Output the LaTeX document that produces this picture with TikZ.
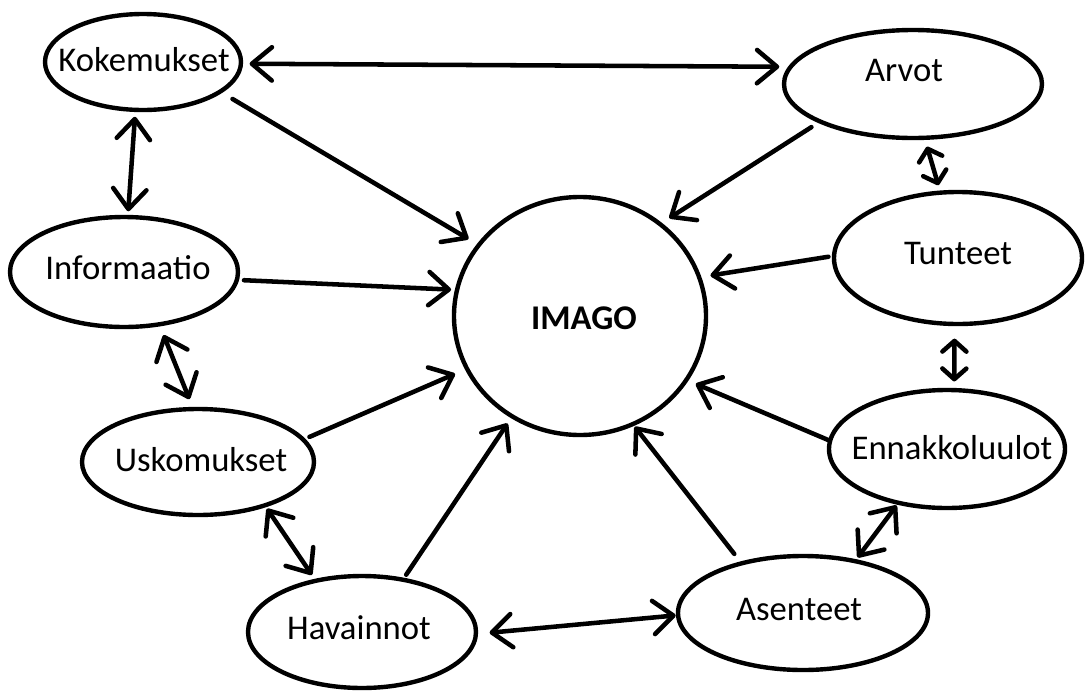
\documentclass[tikz,border=0pt]{standalone}
\usepackage{fontspec}
\setmainfont{Carlito}
\usetikzlibrary{shapes.geometric,arrows.meta,calc}
\begin{document}
\begin{tikzpicture}[x=0.75pt,y=-0.75pt,
  ell/.style={ellipse,draw=black,line width=3.3pt,inner sep=0pt,outer sep=0pt},
  txt/.style={font=\fontsize{26}{30}\selectfont,text=black,inner sep=0pt},
  tip/.tip={Straight Barb[length=15pt,width=25pt,round]},
  stip/.tip={Straight Barb[length=8pt,width=18pt,round]},
  con/.style={line width=3.4pt,line cap=round,-tip},
  bicon/.style={line width=3.4pt,line cap=round,tip-tip},
  sbicon/.style={line width=3.4pt,line cap=round,stip-stip}]
\useasboundingbox (0,0) rectangle (1086,693);
% ellipses
\node[ell,minimum width=147pt,minimum height=72pt] (kok) at (143,62) {};
\node[ell,minimum width=193.5pt,minimum height=81pt] (arv) at (913,84) {};
\node[ell,minimum width=186pt,minimum height=99pt] (tun) at (958,258) {};
\node[ell,minimum width=177pt,minimum height=88.5pt] (enn) at (947,449) {};
\node[ell,minimum width=187.5pt,minimum height=85.5pt] (ase) at (803,613) {};
\node[ell,minimum width=171pt,minimum height=84pt] (hav) at (362,632) {};
\node[ell,minimum width=174pt,minimum height=79.5pt] (usk) at (198,462) {};
\node[ell,minimum width=171pt,minimum height=82.5pt] (inf) at (124,272) {};
\node[ell,minimum width=189pt,minimum height=178.5pt] (img) at (580,316) {};
% labels
\node[txt] (kokt) at (144,60) {Kokemukset};
\node[txt] (arvt) at (904,71) {Arvot};
\node[txt] (tunt) at (958,254) {Tunteet};
\node[txt] (ennt) at (952,448) {Ennakkoluulot};
\node[txt] (aset) at (799,609) {Asenteet};
\node[txt] (havt) at (359,628) {Havainnot};
\node[txt] (uskt) at (201,460) {Uskomukset};
\node[txt] (inft) at (128,268) {Informaatio};
\node[txt,font=\fontsize{26}{30}\selectfont\bfseries] (imgt) at (584,318) {IMAGO};
% connectors
\draw[bicon,shorten <=6.5pt,shorten >=8.6pt] (kok.-1) -- (arv.172.6);
\draw[con,shorten <=10.8pt,shorten >=9pt] (kok.-21) -- (img.145.8);
\draw[con,shorten <=7.8pt,shorten >=8.3pt] (arv.202) -- (img.49.8);
\draw[bicon,shorten <=5.2pt,shorten >=4.3pt] (kok.-99.8) -- (inf.86.4);
\draw[con,shorten <=5.4pt,shorten >=4.5pt] (inf.-4.6) -- (img.168);
\draw[con,shorten <=4.3pt,shorten >=8.6pt] (tun.179) -- (img.18.3);
\draw[sbicon,shorten <=6.9pt,shorten >=5.8pt] (arv.-78) -- (tun.105.4);
\draw[sbicon,shorten <=11pt,shorten >=6.5pt] (tun.-93.4) -- (enn.83.6);
\draw[bicon,shorten <=8.7pt,shorten >=8pt] (inf.-56.5) -- (usk.95.1);
\draw[con,shorten <=5.2pt,shorten >=9.8pt] (usk.12.3) -- (img.205.7);
\draw[bicon,shorten <=3pt,shorten >=5.3pt] (usk.-33.7) -- (hav.132.5);
\draw[con,shorten <=4.5pt,shorten >=6.4pt] (hav.52.5) -- (img.236.7);
\draw[bicon,shorten <=10.3pt,shorten >=1.8pt] (hav.-1.3) -- (ase.181);
\draw[con,shorten <=9pt,shorten >=2.5pt] (ase.141.3) -- (img.-64.2);
\draw[con,shorten <=1pt,shorten >=7.7pt] (enn.176.7) -- (img.-31);
\draw[bicon,shorten <=2.5pt,shorten >=3.5pt] (enn.228.6) -- (ase.45.5);
\end{tikzpicture}
\end{document}
